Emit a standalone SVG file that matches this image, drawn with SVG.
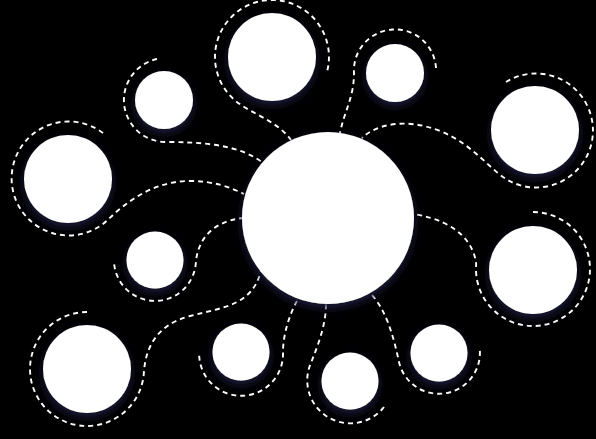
<svg xmlns="http://www.w3.org/2000/svg" width="596" height="439" viewBox="0 0 596 439">
<style>
.bg{fill:#000}
.node{fill:#ffffff;filter:url(#glow)}
.link{fill:none;stroke:#ffffff;stroke-width:1.9;stroke-dasharray:5 4;stroke-linecap:butt}
</style>
<defs>
<filter id="glow" x="-40%" y="-40%" width="180%" height="180%">
<feDropShadow dx="0" dy="4" stdDeviation="5" flood-color="#1a1a40" flood-opacity="1"/>
</filter>
</defs>
<rect class="bg" x="0" y="0" width="596" height="439"/>
<g id="connectors">
<path class="link" d="M327.4,70.3 A57,57 0 1 0 239.3,103.7 C255,115 278,122 291,140"/>
<path class="link" d="M157,59 A42,42 0 0 0 164,142 C205,142 240,145 263,163"/>
<path class="link" d="M103,133 A57,57 0 1 0 106.9,220.7 C128,200 155,181 190,181 C213,181 230,187 244,194"/>
<path class="link" d="M436,68 A41,41 0 0 0 354,73 C354,98 344,112 340,133"/>
<path class="link" d="M506,82 A57,57 0 1 1 510.9,181.7 C492,173 475,145 440,131 C405,117 375,125 362,138"/>
<path class="link" d="M114.2,264.3 A41,41 0 0 0 195.8,263.6 C197,244 208,222 243,218"/>
<path class="link" d="M87,312 A57,57 0 1 0 143.8,374 C145,350 155,325 190,316 C225,307 252,305 261,271"/>
<path class="link" d="M199.2,355.7 A41,41 0 0 0 283,352 C283,335 289,315 298,299"/>
<path class="link" d="M533,212 A57,57 0 1 1 476.2,264 C474,245 460,222 414,214"/>
<path class="link" d="M384,407 A43,43 0 0 1 311,362.8 C318,345 326,325 326,304"/>
<path class="link" d="M479.9,350.9 A41,41 0 0 1 398.6,360.1 C392,330 385,310 372,295"/>
</g>
<g id="center"><circle class="node" cx="328" cy="218" r="86"/></g>
<g id="n-top"><circle class="node" cx="272" cy="57" r="44"/></g>
<g id="n-topleft-small"><circle class="node" cx="164" cy="100" r="29"/></g>
<g id="n-left"><circle class="node" cx="68" cy="179" r="44"/></g>
<g id="n-topright-small"><circle class="node" cx="395" cy="73" r="29"/></g>
<g id="n-right"><circle class="node" cx="535" cy="130" r="44"/></g>
<g id="n-leftlower-small"><circle class="node" cx="155" cy="260" r="28.5"/></g>
<g id="n-bottomleft"><circle class="node" cx="87" cy="369" r="44"/></g>
<g id="n-bottom-small"><circle class="node" cx="241" cy="352" r="28.5"/></g>
<g id="n-rightlower"><circle class="node" cx="533" cy="270" r="44"/></g>
<g id="n-bottommid-small"><circle class="node" cx="350" cy="381" r="28.5"/></g>
<g id="n-bottomright-small"><circle class="node" cx="439" cy="353" r="28.5"/></g>
</svg>
